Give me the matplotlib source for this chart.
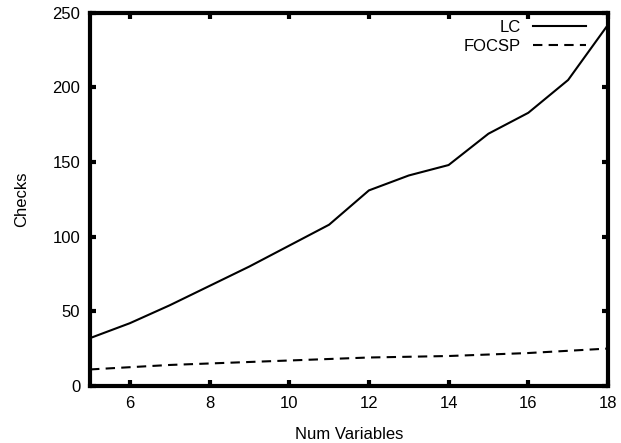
import matplotlib
matplotlib.use('Agg')
import matplotlib.pyplot as plt

plt.rcParams['font.family'] = ['Liberation Sans', 'DejaVu Sans']

# === DATA ===
num_vars = [5, 6, 7, 8, 9, 10, 11, 12, 13, 14, 15, 16, 17, 18]
lc = [32, 42, 54, 67, 80, 94, 108, 131, 141, 148, 169, 183, 205, 242]
focsp = [11, 12.5, 14, 15, 16, 17, 18, 19, 19.5, 20, 21, 22, 23.5, 25]

# === PLOT ===
fig = plt.figure(figsize=(6.21, 4.43), dpi=100)
ax = fig.add_axes([0.145, 0.129, 0.834, 0.842])

ax.plot(num_vars, lc, color='black', lw=1.5, label='LC')
ax.plot(num_vars, focsp, color='black', lw=1.5, ls=(0, (4.5, 3)), label='FOCSP')

ax.set_xlim(5, 18)
ax.set_ylim(0, 250)
ax.set_xticks([6, 8, 10, 12, 14, 16, 18])
ax.set_yticks([0, 50, 100, 150, 200, 250])
ax.set_xlabel('Num Variables', fontsize=12, labelpad=12)
ax.set_ylabel('Checks', fontsize=12, labelpad=17)

for s in ax.spines.values():
    s.set_linewidth(3)
ax.tick_params(direction='in', length=4, width=3, top=True, right=True,
               labelsize=12, pad=7)

ax.legend(loc='upper right', bbox_to_anchor=(0.964, 0.99), frameon=False,
          markerfirst=False, fontsize=12, handlelength=3.2, borderaxespad=0,
          borderpad=0.2, labelspacing=0.25, handletextpad=0.7)

fig.savefig('out.png', dpi=100)
